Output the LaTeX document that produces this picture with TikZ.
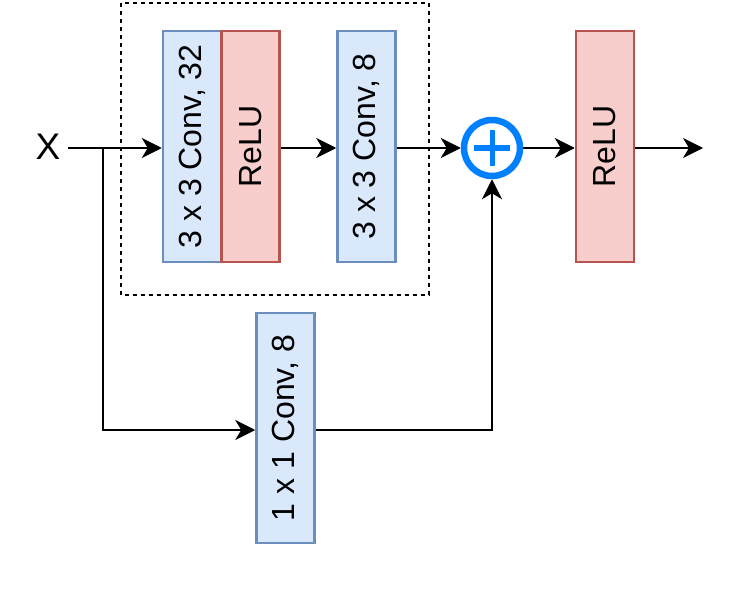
\documentclass[tikz,border=0pt]{standalone}
\usepackage{fontspec}
\setmainfont{Liberation Sans}
\usepackage{xcolor}
\usetikzlibrary{arrows.meta, positioning}

\definecolor{convfill}{HTML}{DAE8FC}
\definecolor{convline}{HTML}{6C8EBF}
\definecolor{relufill}{HTML}{F8CECC}
\definecolor{reluline}{HTML}{B85450}
\definecolor{sumblue}{HTML}{007FFF}

\begin{document}
\begin{tikzpicture}[
  x=1pt, y=-1pt,
  box/.style = {rectangle, draw, line width=2.5pt, rotate=90,
                minimum width=231pt, minimum height=58pt, inner sep=0pt,
                font=\fontsize{32}{34}\selectfont},
  conv/.style = {box, fill=convfill, draw=convline},
  relu/.style = {box, fill=relufill, draw=reluline},
  sum/.style = {circle, draw=sumblue, line width=6.5pt, minimum size=56pt, inner sep=0pt},
  arr/.style = {-{Stealth[length=20pt, width=20pt, inset=6pt]}, line width=1.8pt},
  dashbox/.style = {dashed, dash pattern=on 4pt off 4pt, line width=1.3pt},
]
\useasboundingbox (0,0) rectangle (748,594);

\draw[dashbox] (121,3) rectangle (429,295);

\node[font=\fontsize{37}{40}\selectfont, inner sep=0pt] (x) at (48,147) {X};
\node[conv] (conva) at (192,146.5) {3 x 3 Conv, 32};
\node[relu] (relua) at (250.5,146.5) {ReLU};
\node[conv] (convb) at (366.5,146.5) {3 x 3 Conv, 8};
\node[sum] (plus) at (492,148) {};
\draw[sumblue, line width=5pt] (plus.center) ++(-18,0) -- ++(36,0)
  (plus.center) ++(0,-18) -- ++(0,36);
\node[relu] (relub) at (605,146.5) {ReLU};
\node[conv, minimum width=230pt] (short) at (285.5,428) {1 x 1 Conv, 8};

\coordinate (split) at (103,148);
\coordinate (out) at (703,148);

% main path
\draw[arr] (68,148) -- (conva.north |- 0,148);
\draw[arr] (relua.south |- 0,148) -- (convb.north |- 0,148);
\draw[arr] (convb.south |- 0,148) -- (plus.west);
\draw[arr] (plus.east) -- (relub.north |- 0,148);
\draw[arr] (relub.south |- 0,148) -- (out);

% shortcut
\draw[arr] (split) |- (short.north |- 0,430);
\draw[arr] (short.south |- 0,430) -| (plus.south);

\end{tikzpicture}
\end{document}
